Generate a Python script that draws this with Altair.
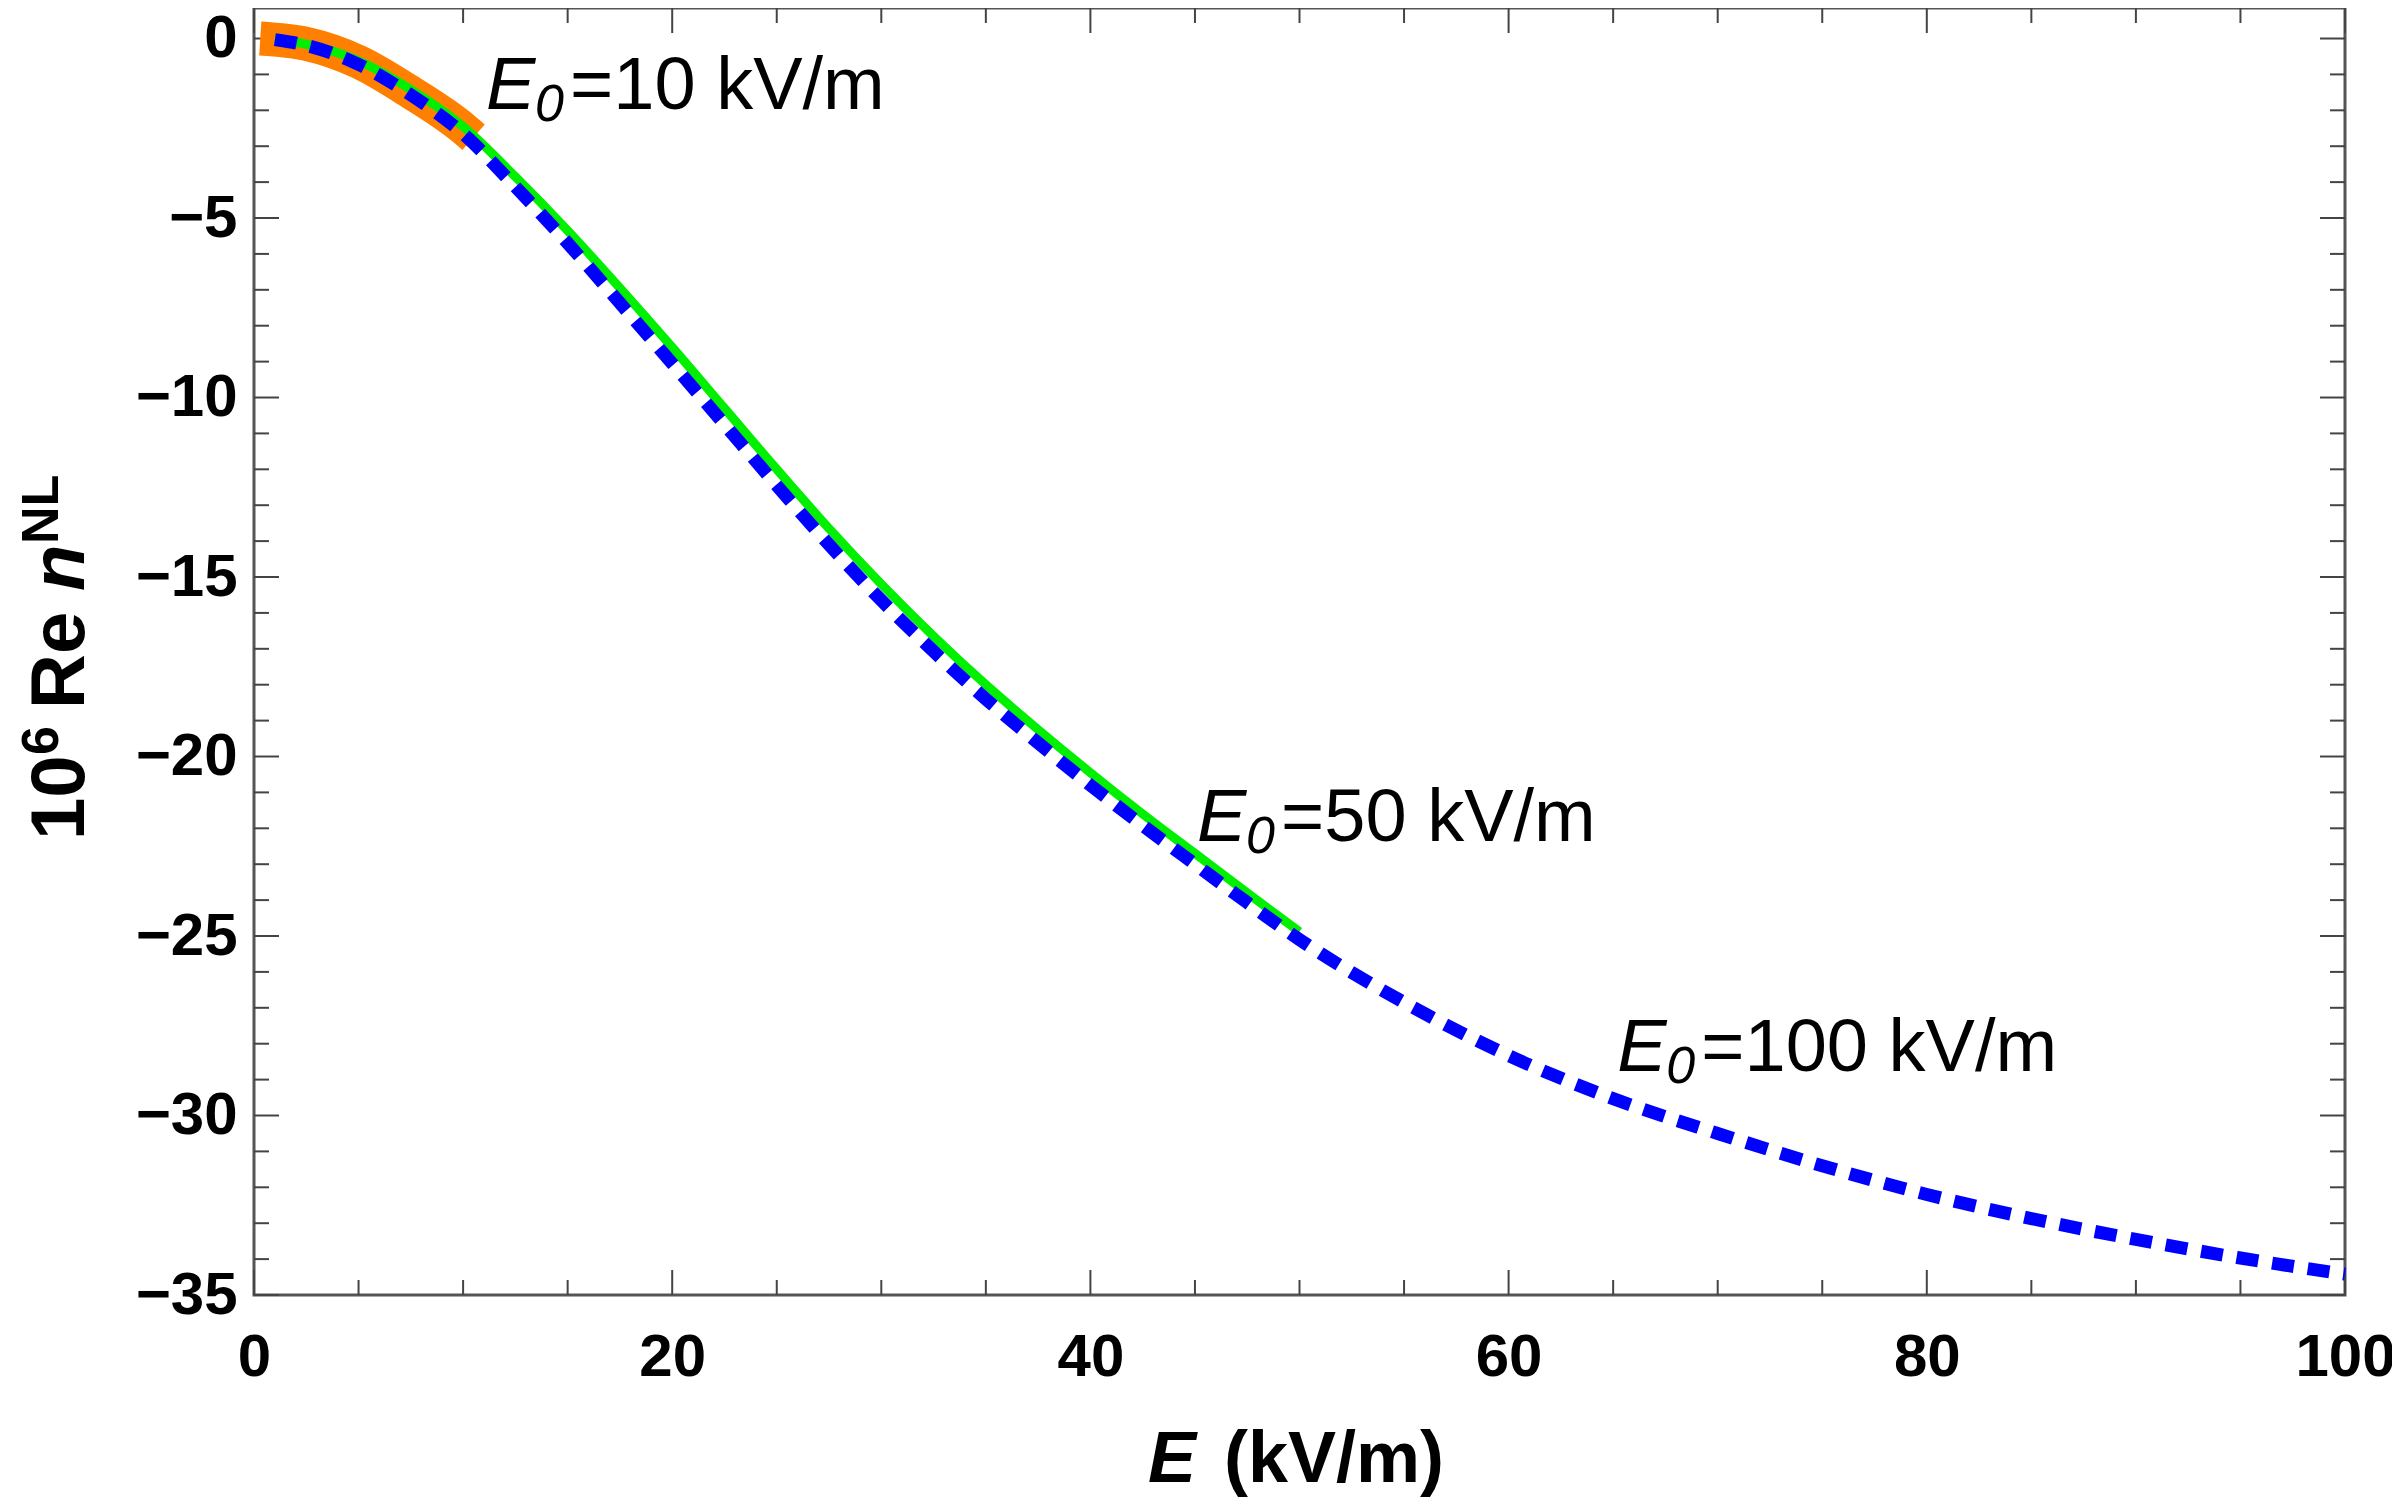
import altair as alt
import pandas as pd

# ---------------- data ----------------
orange_E = [0.3, 2.5, 5, 7.5, 10, 10.5]
orange_v = [0.0, -0.15, -0.65, -1.5, -2.5, -2.75]

green_E = [1, 2.5, 5, 7.5, 10, 12.5, 15, 17.5, 20, 22.5, 25, 27.5, 30, 32.5, 35,
           37.5, 40, 42.5, 45, 47.5, 50]
green_v = [-0.03, -0.16, -0.62, -1.42, -2.45, -3.85, -5.35, -6.95, -8.6, -10.3,
           -12.0, -13.65, -15.2, -16.65, -18.0, -19.25, -20.45, -21.6, -22.7,
           -23.8, -24.88]

blue_E = [1, 2.5, 5, 7.5, 10, 12.5, 15, 17.5, 20, 22.5, 25, 27.5, 30, 32.5, 35,
          37.5, 40, 42.5, 45, 47.5, 50, 55, 60, 65, 70, 75, 80, 85, 90, 95, 100]
blue_v = [-0.03, -0.19, -0.72, -1.57, -2.65, -4.13, -5.7, -7.37, -9.05, -10.75,
          -12.45, -14.1, -15.65, -17.07, -18.4, -19.62, -20.8, -21.92, -23.0,
          -24.07, -25.1, -26.85, -28.33, -29.53, -30.5, -31.4, -32.2, -32.87,
          -33.45, -33.97, -34.42]

ann_x = [11.1, 45.1, 65.2]
ann_y = [-1.95, -22.35, -28.75]
ann_text = ["=10 kV/m", "=50 kV/m", "=100 kV/m"]

x_major = [0, 20, 40, 60, 80, 100]
x_minor = [5, 10, 15, 25, 30, 35, 45, 50, 55, 65, 70, 75, 85, 90, 95]
y_major = [0, -5, -10, -15, -20, -25, -30, -35]
y_minor = [v for v in range(-34, 1) if v % 5 != 0]

# ---------------- layout ----------------
W, H = 2091, 1287
FONT = "Liberation Sans"
xs = alt.Scale(domain=[0, 100], nice=False, zero=False)
ys = alt.Scale(domain=[-35, 0.85], nice=False, zero=False)


def X(field):
    return alt.X(field, scale=xs, title=None)


def Y(field):
    return alt.Y(field, scale=ys, title=None)


def curve(E, v, **mk):
    df = pd.DataFrame({"E": E, "v": v})
    return alt.Chart(df).mark_line(interpolate="monotone", **mk).encode(
        x=X("E:Q"), y=Y("v:Q"))


# axis labels layer (invisible points carrying the axes)
axis_df = pd.DataFrame({"E": [0, 100], "v": [-35, 0]})
axes = alt.Chart(axis_df).mark_point(opacity=0).encode(
    x=alt.X("E:Q", scale=xs, title=None,
            axis=alt.Axis(values=x_major, labelPadding=33)),
    y=alt.Y("v:Q", scale=ys, title=None,
            axis=alt.Axis(values=y_major, labelPadding=17)),
)


def xticks(vals, length, side):
    df = pd.DataFrame({"t": vals})
    y0, y1 = (H, H - length) if side == "bottom" else (0, length)
    return alt.Chart(df).mark_rule(color="#444", strokeWidth=2).encode(
        x=X("t:Q"), y=alt.value(y0), y2=alt.value(y1))


def yticks(vals, length, side):
    df = pd.DataFrame({"t": vals})
    x0, x1 = (0, length) if side == "left" else (W, W - length)
    return alt.Chart(df).mark_rule(color="#444", strokeWidth=2).encode(
        y=Y("t:Q"), x=alt.value(x0), x2=alt.value(x1))


ticks = [xticks(x_major, 25, "bottom"), xticks(x_minor, 15, "bottom"),
         xticks(x_major, 25, "top"), xticks(x_minor, 15, "top"),
         yticks(y_major, 25, "left"), yticks(y_minor, 15, "left"),
         yticks(y_major, 25, "right"), yticks(y_minor, 15, "right")]

orange = curve(orange_E, orange_v, color="#FF8000", strokeWidth=34, strokeCap="butt")
green = curve(green_E, green_v, color="#00F000", strokeWidth=9)
blue = curve(blue_E, blue_v, color="#0000FF", strokeWidth=13, strokeDash=[22, 14],
             strokeCap="butt")

# annotations  E_0=... kV/m
ann = pd.DataFrame({"x": ann_x, "y": ann_y, "t": ann_text})
ann_base = alt.Chart(ann).encode(x=X("x:Q"), y=Y("y:Q"))
ann_E = ann_base.mark_text(font=FONT, fontSize=74, fontStyle="italic", align="left",
                           baseline="alphabetic", color="black").encode(text=alt.value("E"))
ann_0 = ann_base.mark_text(font=FONT, fontSize=52, fontStyle="italic", align="left",
                           baseline="alphabetic", dx=49, dy=12,
                           color="black").encode(text=alt.value("0"))
ann_rest = ann_base.mark_text(font=FONT, fontSize=74, align="left", baseline="alphabetic",
                              dx=84, color="black").encode(text="t:N")

one = pd.DataFrame({"k": [0]})


def label(txt, px, py, size, angle=0, style="normal", weight="bold"):
    kw = dict(font=FONT, fontSize=size, fontStyle=style, fontWeight=weight,
              align="left", baseline="alphabetic", color="black")
    if angle:
        kw["angle"] = angle
    return alt.Chart(one).mark_text(**kw).encode(
        x=alt.value(px), y=alt.value(py), text=alt.value(txt))


# y title: 10^6 Re n^NL (rotated)
TX = -170
ytitle = [
    label("10", TX, 832, 76, 270),
    label("6", TX - 26, 747, 52, 270),
    label("Re", TX, 701, 76, 270),
    label("n", TX, 583, 76, 270, style="italic"),
    label("NL", TX - 26, 536, 52, 270),
]
# x title: E (kV/m)
xtitle = [
    label("E", 894, 1474, 72, style="italic"),
    label("(kV/m)", 970, 1474, 72),
]

chart = alt.layer(
    axes, *ticks, orange, green, blue, ann_E, ann_0, ann_rest, *ytitle, *xtitle
).properties(
    width=W, height=H,
    autosize=alt.AutoSizeParams(type="none"),
    padding={"left": 246, "top": 0, "right": 47, "bottom": 204},
).configure_view(
    stroke="#555", strokeWidth=3
).configure_axis(
    ticks=False, domain=False, grid=False,
    labelFont=FONT, labelFontWeight="bold", labelFontSize=60,
    labelColor="black", labelFlush=False,
)

chart.save("out.html", embed_options={"renderer": "svg", "actions": False})
